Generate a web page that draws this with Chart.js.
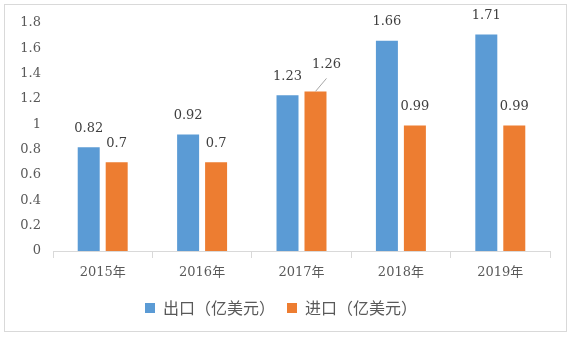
<!DOCTYPE html>
<html>
<head>
<meta charset="utf-8">
<script src="https://cdn.jsdelivr.net/npm/chart.js@4/dist/chart.umd.min.js"></script>
<style>
  html, body { margin: 0; padding: 0; background: #fff; }
  #wrap { width: 569px; height: 337px; }
</style>
</head>
<body>
<div id="wrap"><canvas id="chart" width="569" height="337"></canvas></div>
<script>
// Data
const years = ['2015年', '2016年', '2017年', '2018年', '2019年'];
const exportValues = [0.82, 0.92, 1.23, 1.66, 1.71];
const importValues = [0.7, 0.7, 1.26, 0.99, 0.99];
const seriesNames = ['出口（亿美元）', '进口（亿美元）'];
const yMax = 1.8;
const yStep = 0.2;

const blue = '#5b9bd5';
const orange = '#ed7d31';
const gridGrey = '#d9d9d9';
const textGrey = '#595959';
const numberFont = '"DejaVu Serif", "Noto Sans CJK SC", serif';

// White background + thin outer frame
const frame = {
  id: 'frame',
  beforeDraw(chart) {
    const ctx = chart.ctx;
    ctx.save();
    ctx.fillStyle = '#fff';
    ctx.fillRect(0, 0, chart.width, chart.height);
    ctx.strokeStyle = gridGrey;
    ctx.lineWidth = 1;
    ctx.strokeRect(4.5, 4.5, 562, 327);
    ctx.restore();
  }
};

// Value labels above each bar (the 2017 import label sits off to the side with a leader line)
const valueLabels = {
  id: 'valueLabels',
  afterDatasetsDraw(chart) {
    const ctx = chart.ctx;
    ctx.save();
    ctx.font = '13px ' + numberFont;
    ctx.fillStyle = '#404040';
    ctx.textAlign = 'center';
    ctx.textBaseline = 'middle';
    chart.data.datasets.forEach((ds, di) => {
      chart.getDatasetMeta(di).data.forEach((bar, i) => {
        let x = bar.x;
        let y = bar.y - 19;
        if (di === 1 && i === 2) {
          ctx.strokeStyle = '#a6a6a6';
          ctx.lineWidth = 1;
          ctx.beginPath();
          ctx.moveTo(bar.x, bar.y);
          ctx.lineTo(bar.x + 11, bar.y - 13);
          ctx.stroke();
          x = bar.x + 11;
          y = bar.y - 27;
        }
        ctx.fillText(String(ds.data[i]), x, y);
      });
    });
    ctx.restore();
  }
};

new Chart(document.getElementById('chart'), {
  type: 'bar',
  data: {
    labels: years,
    datasets: [
      { label: seriesNames[0], data: exportValues, backgroundColor: blue,
        barPercentage: 0.786, categoryPercentage: 0.563 },
      { label: seriesNames[1], data: importValues, backgroundColor: orange,
        barPercentage: 0.786, categoryPercentage: 0.563 }
    ]
  },
  options: {
    responsive: false,
    devicePixelRatio: 1,
    animation: false,
    layout: { padding: { top: 23, left: 12, right: 19, bottom: 11 } },
    scales: {
      x: {
        grid: { display: true, drawOnChartArea: false, drawTicks: true, tickLength: 7, color: gridGrey, offset: true },
        border: { display: true, color: gridGrey },
        ticks: { color: textGrey, padding: 7, font: { family: numberFont, size: 13 } },
        afterFit(scale) { scale.height = 37; }
      },
      y: {
        min: 0,
        max: yMax,
        grid: { display: false, drawTicks: false },
        border: { display: false },
        ticks: {
          stepSize: yStep,
          color: textGrey,
          padding: 12,
          font: { family: numberFont, size: 13 },
          callback: v => String(Number(v.toFixed(1)))
        },
        afterFit(scale) { scale.width = 41; }
      }
    },
    plugins: {
      legend: {
        position: 'bottom',
        labels: {
          boxWidth: 10,
          boxHeight: 10,
          padding: 12,
          color: textGrey,
          font: { family: '"Noto Sans CJK SC", sans-serif', size: 16 }
        }
      },
      tooltip: { enabled: false }
    }
  },
  plugins: [frame, valueLabels]
});
</script>
</body>
</html>
